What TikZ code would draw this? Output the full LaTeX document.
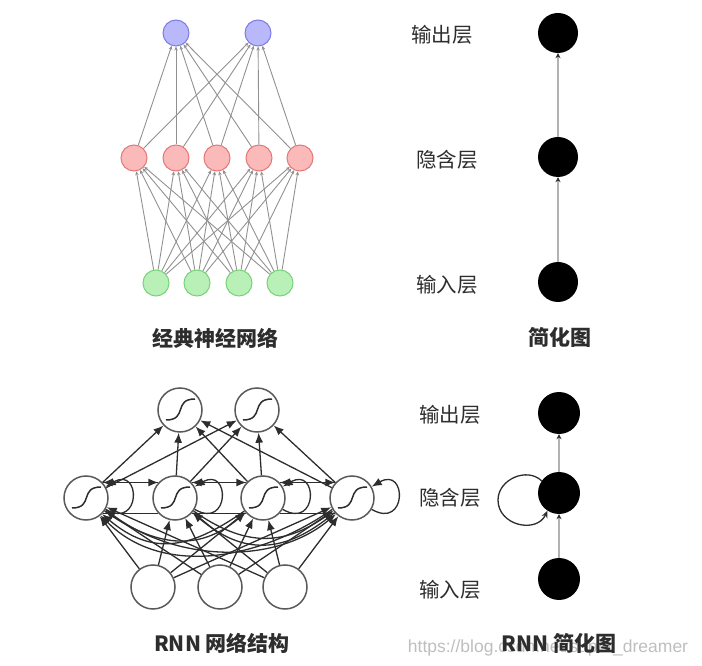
\documentclass[tikz,border=0pt]{standalone}
\usepackage{fontspec}
\newfontfamily\cjk{Noto Sans CJK SC}
\newfontfamily\wm{Liberation Sans}
\usetikzlibrary{arrows.meta}
\definecolor{bfill}{RGB}{184,184,250}
\definecolor{bdraw}{RGB}{125,125,225}
\definecolor{rfill}{RGB}{250,186,186}
\definecolor{rdraw}{RGB}{228,120,120}
\definecolor{gfill}{RGB}{184,240,184}
\definecolor{gdraw}{RGB}{120,210,120}
\definecolor{edgegray}{RGB}{145,145,145}
\definecolor{simpgray}{RGB}{178,178,178}
\definecolor{ink}{RGB}{45,45,45}
\definecolor{rnnline}{RGB}{45,45,45}
\definecolor{rnncirc}{RGB}{90,90,90}
\definecolor{wmgray}{RGB}{190,190,190}
\begin{document}
\begin{tikzpicture}[x=1pt,y=1pt,
  cnode/.style={circle, minimum size=26pt, inner sep=0pt, line width=1pt},
  bluen/.style={cnode, fill=bfill, draw=bdraw},
  redn/.style={cnode, fill=rfill, draw=rdraw},
  greenn/.style={cnode, fill=gfill, draw=gdraw},
  nnedge/.style={draw=edgegray, line width=0.9pt, -{Stealth[length=4pt,width=3.5pt]}},
  blackn/.style={circle, fill=black, minimum size=40pt, inner sep=0pt},
  blackm/.style={circle, fill=black, minimum size=42pt, inner sep=0pt},
  simpedge/.style={draw=simpgray, line width=1.8pt, -{Stealth[length=5pt,width=5pt,color=ink]}},
  loopedge/.style={draw=rnnline, line width=1.3pt, -{Stealth[length=7pt,width=6pt]}},
  signode/.style={circle, draw=rnncirc, fill=white, line width=1.5pt, minimum size=44pt, inner sep=0pt,
    path picture={\draw[line width=1.5pt, rnnline]
      ([shift={(-14,-10)}]path picture bounding box.center) .. controls
      ([shift={(8,-10)}]path picture bounding box.center) and
      ([shift={(-7,11)}]path picture bounding box.center) ..
      ([shift={(15,11)}]path picture bounding box.center);}},
  innode/.style={circle, draw=rnncirc, fill=white, line width=1.5pt, minimum size=44pt, inner sep=0pt},
  rnnedge/.style={draw=rnnline, line width=1.3pt, -{Latex[length=10pt,width=8pt]}},
  rnnplain/.style={draw=rnnline, line width=1.3pt},
  ttl/.style={font=\cjk\bfseries\fontsize{21}{25}\selectfont, text=ink, inner sep=0pt},
  lbl/.style={font=\cjk\fontsize{20.5}{24}\selectfont, text=ink, inner sep=0pt},
  wmark/.style={font=\wm\fontsize{17.5}{20}\selectfont, text=wmgray, inner sep=0pt}
]
\useasboundingbox (0,0) rectangle (702,665);

% ---------- classic neural network ----------
\foreach \x [count=\i] in {176,258} \node[bluen] (b\i) at (\x,632) {};
\foreach \x [count=\i] in {134,176,217,259,300} \node[redn] (r\i) at (\x,507) {};
\foreach \x [count=\i] in {156,197,239,280} \node[greenn] (g\i) at (\x,382) {};
\foreach \i in {1,...,4} \foreach \j in {1,...,5} \draw[nnedge] (g\i) -- (r\j);
\foreach \i in {1,...,5} \foreach \j in {1,2} \draw[nnedge] (r\i) -- (b\j);
\node[ttl] (t1) at (215,327) {经典神经网络};

% ---------- simplified ----------
\node[blackn] (s3) at (558,632) {};
\node[blackn] (s2) at (558,508) {};
\node[blackn] (s1) at (558,383) {};
\draw[simpedge] (s1) -- (s2);
\draw[simpedge] (s2) -- (s3);
\node[lbl] (l3) at (442,630) {输出层};
\node[lbl] (l2) at (447,505) {隐含层};
\node[lbl] (l1) at (447,380) {输入层};
\node[ttl] (t2) at (560,328) {简化图};

% ---------- RNN simplified ----------
\node[blackm] (q3) at (559,252) {};
\node[blackm] (q2) at (559,172) {};
\node[blackm] (q1) at (559,86) {};
\draw[simpedge] (q1) -- (q2);
\draw[simpedge] (q2) -- (q3);
\coordinate (qloop) at (498,165);
\draw[loopedge] (q2.145) to[out=136,in=90,looseness=1.1] (qloop) to[out=-90,in=245,looseness=1.3] (q2.237);
\node[lbl] (m3) at (450,250) {输出层};
\node[lbl] (m2) at (450,167) {隐含层};
\node[lbl] (m1) at (450,75) {输入层};
\node[wmark] (wm) at (548,17) {https://blog.csdn.net/super\_dreamer};
\node[ttl] (t4) at (559,22) {RNN 简化图};

% ---------- RNN network ----------
\foreach \x [count=\i] in {180,257} \node[signode] (o\i) at (\x,255) {};
\foreach \x [count=\i] in {86,175,263,352} \node[signode] (h\i) at (\x,167) {};
\foreach \x [count=\i] in {153,220,285} \node[innode] (x\i) at (\x,78) {};
\foreach \i in {1,...,4} \foreach \j in {1,2} \draw[rnnedge] (h\i) -- (o\j);
\foreach \k in {1,2,3} \foreach \i in {1,...,4} \draw[rnnedge] (x\k) -- (h\i);
\foreach \i in {1,...,4} \draw[rnnedge] (h\i.-30) to[out=-30,in=30,distance=41pt] (h\i.30);
\foreach \i/\j in {1/2,2/3,3/4} {
  \draw[rnnedge] (h\i.43) -- (h\j.137);
  \draw[rnnedge] (h\j.137) -- (h\i.43);
  \draw[rnnplain] (h\i.-43) -- (h\j.-137);
}
\draw[rnnedge] (h1.-35) to[out=-35,in=-140,distance=62pt] (h3.-140);
\draw[rnnedge] (h1.-30) to[out=-40,in=-140,distance=82pt] (h4.-135);
\draw[rnnedge] (h2.-35) to[out=-35,in=-145,distance=62pt] (h4.-145);
\draw[rnnedge] (h3.-145) to[out=-145,in=-40,distance=66pt] (h1.-45);
\draw[rnnedge] (h4.-150) to[out=-145,in=-45,distance=88pt] (h1.-50);
\draw[rnnedge] (h4.-140) to[out=-140,in=-40,distance=66pt] (h2.-40);
\node[ttl] (t3) at (222,22) {RNN 网络结构};
\end{tikzpicture}
\end{document}
